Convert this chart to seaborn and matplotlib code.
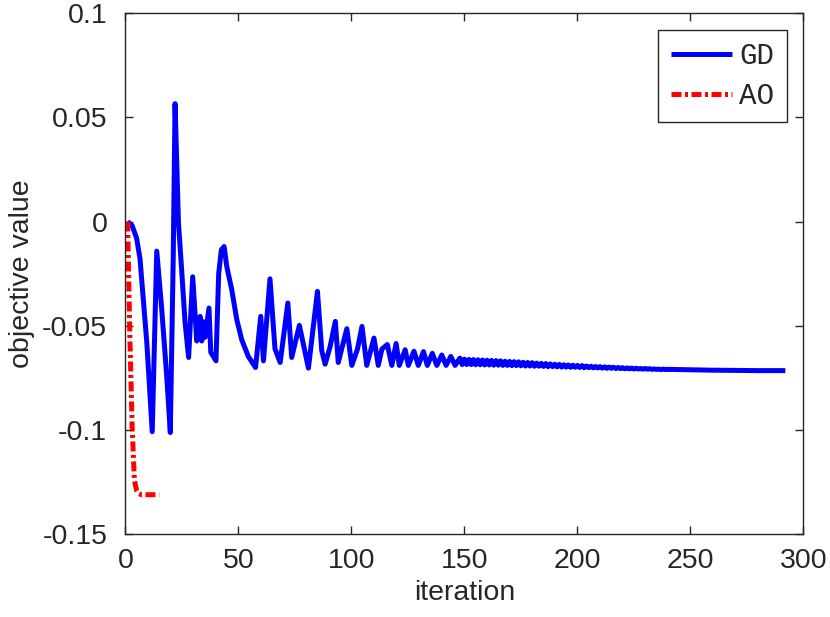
import numpy as np
import pandas as pd
import matplotlib
matplotlib.use("Agg")
import matplotlib.pyplot as plt
import seaborn as sns

# GD: vertices (iteration, objective value), up to ~148
gd_iter_head = [1, 3, 5, 6.5, 9.5, 11.9, 13.9, 16.1, 18.3, 19.9, 21.2, 22.0, 23.5, 25.0, 26.4,
                28.0, 29.8, 31.6, 33.1, 33.8, 34.5, 35.3, 37.0, 37.8, 40.1, 41.3, 42.5, 43.7,
                44.9, 47.1, 49.3, 51.5, 54.4, 57.6, 59.9, 61.1, 64.0, 66.2, 68.5, 71.9, 73.6,
                77.0, 81.0, 85.0, 86.9, 88.4, 90.6, 92.9, 94.2, 98.0, 100.2, 102.7, 104.7,
                106.8, 110.0, 111.9, 113.5, 115.9, 117.9, 119.8, 121.2, 123.8, 125.2, 127.7,
                129.6, 131.9, 133.6, 135.8, 137.8, 140.0, 141.9, 144.0, 145.9, 148.0]
gd_obj_head = [0.0, -0.002, -0.008, -0.018, -0.058, -0.1008, -0.0142, -0.042, -0.074, -0.1012,
               -0.0166, 0.0565, -0.0006, -0.0245, -0.048, -0.0652, -0.0265, -0.0573, -0.0455,
               -0.0573, -0.048, -0.0555, -0.0415, -0.0627, -0.0668, -0.025, -0.0135, -0.0120,
               -0.0217, -0.0328, -0.047, -0.0567, -0.0647, -0.0700, -0.0455, -0.0668, -0.0275,
               -0.061, -0.0676, -0.0391, -0.0652, -0.0498, -0.0703, -0.0335, -0.062, -0.0684,
               -0.060, -0.0479, -0.0676, -0.0514, -0.0690, -0.0612, -0.0503, -0.0690, -0.0559,
               -0.0690, -0.0612, -0.0590, -0.0690, -0.0585, -0.0690, -0.0615, -0.0690, -0.0622,
               -0.0690, -0.0624, -0.0690, -0.0632, -0.0690, -0.0640, -0.0690, -0.0647, -0.0690,
               -0.0655]

# GD tail: alternating every iteration, upper values on even and lower on odd iterations
gd_iter_up = list(range(150, 241, 2))
gd_obj_up = [-0.0660, -0.0661, -0.0662, -0.0663, -0.0664, -0.0665, -0.0666, -0.0667,
             -0.0668, -0.0670, -0.0671, -0.0672, -0.0673, -0.0675, -0.0676, -0.0677,
             -0.0679, -0.0680, -0.0681, -0.0683, -0.0684, -0.0685, -0.0687, -0.0688,
             -0.0689, -0.0690, -0.0691, -0.0693, -0.0694, -0.0695, -0.0696, -0.0697,
             -0.0698, -0.0699, -0.0700, -0.0701, -0.0702, -0.0703, -0.0704, -0.0705,
             -0.0705, -0.0706, -0.0707, -0.0708, -0.0708, -0.0709]
gd_iter_low = list(range(149, 240, 2))
gd_obj_low = [-0.0686, -0.0686, -0.0686, -0.0687, -0.0687, -0.0688, -0.0688, -0.0689,
              -0.0689, -0.0690, -0.0690, -0.0691, -0.0691, -0.0692, -0.0693, -0.0693,
              -0.0694, -0.0694, -0.0695, -0.0696, -0.0696, -0.0697, -0.0698, -0.0698,
              -0.0699, -0.0699, -0.0700, -0.0701, -0.0701, -0.0702, -0.0702, -0.0703,
              -0.0704, -0.0704, -0.0705, -0.0705, -0.0706, -0.0706, -0.0707, -0.0707,
              -0.0708, -0.0708, -0.0709, -0.0709, -0.0710, -0.0710]

# GD end: settled
gd_iter_end = [244, 250, 260, 270, 280, 292]
gd_obj_end = [-0.0710, -0.0711, -0.0713, -0.0714, -0.0715, -0.0715]

# AO converges in a few iterations
ao_iter = [1, 2, 3, 4, 5, 6, 7, 8, 9, 10, 11, 12, 13, 14, 15]
ao_obj = [0.0, -0.055, -0.098, -0.124, -0.129, -0.1305, -0.131, -0.131, -0.131, -0.131,
          -0.131, -0.131, -0.131, -0.131, -0.131]

x_ticks = [0, 50, 100, 150, 200, 250, 300]
y_ticks = [-0.15, -0.1, -0.05, 0, 0.05, 0.1]
y_tick_labels = ["-0.15", "-0.1", "-0.05", "0", "0.05", "0.1"]

gd = pd.concat([
    pd.DataFrame({"iteration": gd_iter_head, "objective value": gd_obj_head}),
    pd.DataFrame({"iteration": gd_iter_up, "objective value": gd_obj_up}),
    pd.DataFrame({"iteration": gd_iter_low, "objective value": gd_obj_low}),
    pd.DataFrame({"iteration": gd_iter_end, "objective value": gd_obj_end}),
]).sort_values("iteration")
ao = pd.DataFrame({"iteration": ao_iter, "objective value": ao_obj})

sns.set_style("ticks")
plt.rcParams["font.family"] = ["Liberation Sans", "DejaVu Sans"]
plt.rcParams["axes.unicode_minus"] = False

fig = plt.figure(figsize=(8.3, 6.17), dpi=100)
ax = fig.add_axes([0.151, 0.134, 0.817, 0.845])

sns.lineplot(data=gd, x="iteration", y="objective value", ax=ax, color="#0000ff",
             linewidth=3.6, label="GD", sort=False)
sns.lineplot(data=ao, x="iteration", y="objective value", ax=ax, color="#ff0000",
             linewidth=3.6, label="AO", sort=False,
             linestyle=(0, (2.0, 0.7, 0.6, 0.7)))
for ln in ax.lines:
    ln.set_solid_capstyle("butt")
    ln.set_dash_capstyle("butt")

ax.set_xlim(0, 300)
ax.set_ylim(-0.15, 0.1)
ax.set_xticks(x_ticks)
ax.set_yticks(y_ticks)
ax.set_yticklabels(y_tick_labels)

txt = "#262626"
for s in ax.spines.values():
    s.set_visible(True)
    s.set_color(txt)
    s.set_linewidth(1.0)
ax.tick_params(axis="both", direction="in", length=6, width=1.0, color=txt,
               labelcolor=txt, labelsize=20.5, top=True, right=True)
ax.tick_params(axis="x", pad=10)
ax.tick_params(axis="y", pad=13)
ax.set_xlabel("iteration", fontsize=20.5, color=txt, labelpad=4)
ax.set_ylabel("objective value", fontsize=20.5, color=txt, labelpad=5)

leg = ax.legend(loc="upper right", prop={"family": "Liberation Mono", "size": 21},
                handlelength=2.1, borderaxespad=0.58, fancybox=False, framealpha=1,
                edgecolor=txt, borderpad=0.42, labelspacing=0.4, handletextpad=0.25)
leg.get_frame().set_linewidth(1.0)

fig.savefig("out.png", dpi=100)
